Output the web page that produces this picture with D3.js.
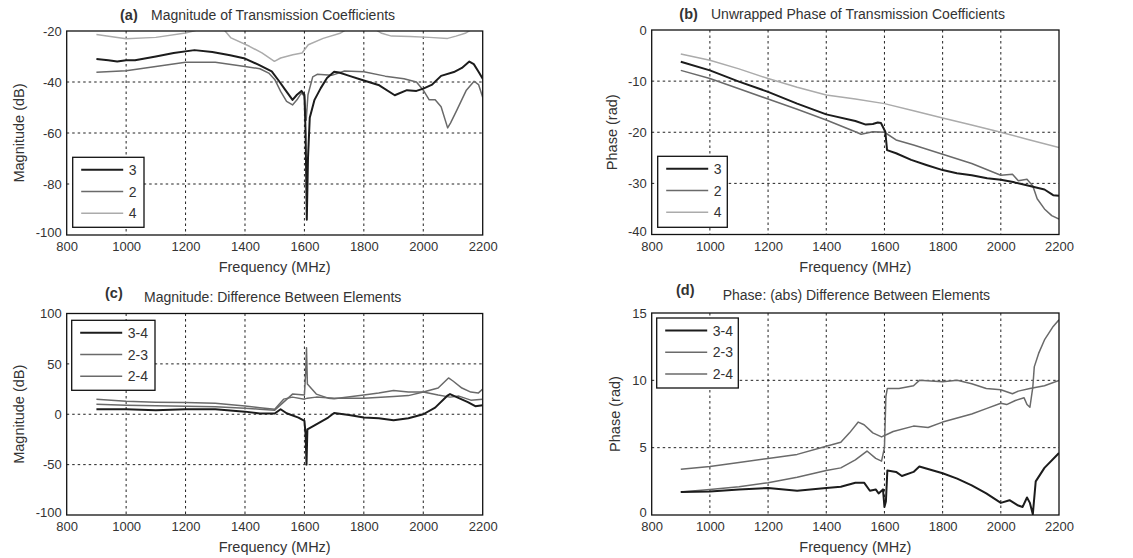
<!DOCTYPE html>
<html>
<head>
<meta charset="utf-8">
<script src="https://cdn.jsdelivr.net/npm/d3@7"></script>
<style>
  body { margin: 0; background: #fff; }
  text { font-family: "Liberation Sans", Arial, sans-serif; fill: #333; }
</style>
</head>
<body>
<svg id="chart" width="1133" height="558"></svg>
<script>
'use strict'

// ---- data: [frequency MHz, value] ----
let freqTicks = [800, 1000, 1200, 1400, 1600, 1800, 2000, 2200];

// (a) magnitude, dB
let magT3 = [[900,-31],[940,-31.5],[970,-32],[1000,-31.5],[1030,-31.5],[1100,-30],[1160,-28.6],[1230,-27.5],[1290,-28.2],[1350,-29.5],[1400,-30.8],[1445,-33.2],[1490,-35.8],[1515,-39.7],[1535,-43],[1560,-47],[1575,-45],[1590,-43.5],[1600,-45],[1604,-60],[1608,-94],[1612,-70],[1618,-54],[1634,-47],[1655,-42.4],[1676,-38.4],[1700,-36],[1717,-36.3],[1746,-37.4],[1800,-39.4],[1852,-41.3],[1904,-45.2],[1945,-43.2],[1977,-43.5],[2000,-42.6],[2030,-41],[2060,-37.6],[2103,-36.1],[2130,-34.5],[2155,-32],[2170,-33],[2186,-36],[2200,-38.7]];
let magT2 = [[900,-36.2],[1000,-35.6],[1100,-33.9],[1200,-32.3],[1300,-32.3],[1400,-33.9],[1450,-34.8],[1480,-36.5],[1500,-39],[1520,-43.7],[1540,-47.6],[1560,-49],[1575,-47],[1590,-44.3],[1600,-45.6],[1606,-55],[1612,-45],[1628,-38],[1643,-37],[1692,-37.4],[1735,-35.7],[1800,-36],[1872,-37.7],[1935,-38.7],[1977,-40],[2000,-43.2],[2020,-47],[2040,-47],[2060,-49.7],[2082,-58],[2092,-56],[2113,-51],[2145,-43.2],[2171,-39.7],[2186,-41],[2200,-46]];
let magT4 = [[900,-21.4],[1000,-23],[1100,-22.5],[1200,-20.8],[1240,-19.6],[1330,-19.6],[1353,-22.7],[1415,-26],[1457,-28.6],[1499,-31.9],[1520,-30.6],[1561,-29.3],[1592,-28.6],[1613,-25.4],[1663,-22.9],[1720,-20.9],[1740,-19.5],[1840,-19.5],[1860,-20.9],[1893,-22],[1956,-22.2],[2020,-22.5],[2082,-22.9],[2110,-22],[2141,-20.9],[2160,-19.6],[2200,-19.6]];

// (b) unwrapped phase, rad
let phT3 = [[900,-6.2],[1000,-7.9],[1100,-10.1],[1200,-12.1],[1300,-14.4],[1400,-16.5],[1500,-17.8],[1536,-18.5],[1560,-18.4],[1577,-18.1],[1588,-18.2],[1603,-19.9],[1609,-23.5],[1640,-24.1],[1692,-25.4],[1744,-26.4],[1800,-27.4],[1849,-28],[1900,-28.4],[1953,-29],[2000,-29.3],[2047,-29.8],[2100,-30.5],[2150,-31.2],[2180,-32.3],[2200,-32.4]];
let phT2 = [[900,-7.9],[1000,-9.5],[1100,-11.5],[1200,-13.5],[1300,-15.5],[1400,-17.6],[1500,-19.9],[1520,-20.4],[1560,-19.9],[1600,-20],[1640,-21.5],[1700,-22.5],[1800,-24.3],[1900,-26.1],[2000,-28.4],[2040,-28.2],[2060,-29.5],[2090,-29.2],[2110,-30.5],[2125,-33],[2150,-35],[2175,-36.3],[2200,-37]];
let phT4 = [[900,-4.7],[1000,-5.9],[1100,-7.6],[1200,-9.5],[1300,-11.2],[1400,-12.7],[1500,-13.5],[1600,-14.4],[1700,-15.8],[1800,-17.2],[1900,-18.6],[2000,-20],[2100,-21.5],[2200,-23]];

// (c) magnitude difference, dB
let magD34 = [[900,5],[1000,5],[1100,4],[1200,5],[1300,5],[1400,2.6],[1450,0.7],[1500,0.7],[1520,5],[1540,1],[1580,-3.3],[1600,-6.6],[1604,-20],[1607,-50],[1610,-15],[1640,-10],[1680,-3.3],[1700,1.3],[1750,-0.7],[1800,-3.3],[1850,-4],[1900,-6],[1950,-4],[2000,0],[2040,6.6],[2080,18.2],[2090,20],[2120,16],[2150,12],[2175,8],[2200,9]];
let magD23 = [[900,10],[1000,9],[1100,8.5],[1200,8],[1300,7.5],[1400,6],[1450,5],[1500,4],[1530,12],[1560,20],[1600,19],[1604,40],[1607,66],[1610,30],[1640,20],[1680,16],[1700,15.5],[1800,19],[1850,21],[1900,23.5],[1950,22],[2000,22],[2050,19],[2090,17],[2120,18],[2160,14],[2200,15]];
let magD24 = [[900,15],[1000,13],[1100,12],[1200,11.6],[1300,11],[1400,8.3],[1450,6.5],[1500,5],[1530,15],[1560,17],[1600,15],[1610,16],[1640,17],[1700,16],[1800,16],[1900,17.5],[1950,18.5],[2000,22],[2050,26],[2085,36],[2100,33],[2130,26],[2160,22],[2185,21],[2200,25]];

// (d) phase difference, rad
let phD34 = [[900,1.7],[1000,1.75],[1100,1.9],[1200,2.0],[1300,1.8],[1400,2.0],[1450,2.1],[1500,2.4],[1530,2.4],[1550,1.8],[1570,1.9],[1580,1.6],[1595,1.9],[1600,0.6],[1605,1.0],[1610,3.3],[1640,3.2],[1660,2.9],[1700,3.2],[1720,3.6],[1800,3.1],[1850,2.7],[1900,2.2],[1950,1.6],[2000,0.9],[2030,1.1],[2060,0.7],[2075,0.6],[2090,1.3],[2100,0.9],[2110,0.05],[2120,2.5],[2150,3.5],[2200,4.6]];
let phD23 = [[900,1.7],[1000,1.9],[1100,2.1],[1200,2.4],[1300,2.8],[1400,3.3],[1450,3.5],[1500,4.1],[1540,4.75],[1570,4.2],[1590,4.0],[1600,5],[1605,8.8],[1610,9.4],[1650,9.4],[1700,9.6],[1720,10],[1800,9.9],[1850,10],[1900,9.75],[1950,9.4],[2000,9.3],[2040,9.0],[2060,9.2],[2100,9.4],[2150,9.6],[2200,10]];
let phD24 = [[900,3.4],[1000,3.6],[1100,3.9],[1200,4.2],[1300,4.5],[1400,5.1],[1450,5.4],[1480,6.1],[1510,6.9],[1530,6.7],[1560,6.1],[1590,5.8],[1610,6.0],[1630,6.2],[1700,6.6],[1750,6.5],[1800,6.9],[1900,7.5],[1950,7.9],[2000,8.3],[2020,8.2],[2050,8.5],[2080,8.7],[2090,8.2],[2100,8.0],[2110,9.5],[2115,11],[2130,12],[2150,13],[2180,14],[2200,14.5]];

let magTicks = [-100, -80, -60, -40, -20];
let phTicks = [-40, -30, -20, -10, 0];
let magDTicks = [-100, -50, 0, 50, 100];
let phDTicks = [0, 5, 10, 15];

let black = '#1c1c1c', grey = '#6a6a6a', light = '#ababab';

const svg = d3.select('#chart');

function drawPanel(p) {
	let x = d3.scaleLinear().domain([800, 2200]).range([p.x0, p.x1]);
	let y = d3.scaleLinear().domain([p.yTicks[0], p.yTicks[p.yTicks.length-1]]).range([p.y1, p.y0]);
	let g = svg.append('g');

	g.append('defs').append('clipPath').attr('id', 'clip-' + p.id)
		.append('rect').attr('x', p.x0).attr('y', p.y0).attr('width', p.x1 - p.x0).attr('height', p.y1 - p.y0);

	// dotted grid
	g.selectAll('.vgrid').data(freqTicks.slice(1, -1)).enter().append('line')
		.attr('x1', d => x(d)).attr('x2', d => x(d)).attr('y1', p.y0).attr('y2', p.y1)
		.attr('stroke', '#222').attr('stroke-width', 1).attr('stroke-dasharray', '2.5,3');
	g.selectAll('.hgrid').data(p.yTicks.slice(1, -1)).enter().append('line')
		.attr('x1', p.x0).attr('x2', p.x1).attr('y1', d => y(d)).attr('y2', d => y(d))
		.attr('stroke', '#222').attr('stroke-width', 1).attr('stroke-dasharray', '2.5,3');

	// series
	let line = d3.line().x(d => x(d[0])).y(d => y(d[1]));
	let plot = g.append('g').attr('clip-path', 'url(#clip-' + p.id + ')');
	p.series.slice().reverse().forEach(function(s) {
		plot.append('path').datum(s.data).attr('d', line)
			.attr('fill', 'none').attr('stroke', s.color).attr('stroke-width', s.width)
			.attr('stroke-linejoin', 'round');
	});

	// box
	g.append('rect').attr('x', p.x0).attr('y', p.y0).attr('width', p.x1 - p.x0).attr('height', p.y1 - p.y0)
		.attr('fill', 'none').attr('stroke', '#111').attr('stroke-width', 1.3);

	// axes via d3, domain hidden
	let xa = g.append('g').attr('transform', 'translate(0,' + p.y1 + ')')
		.call(d3.axisBottom(x).tickValues(freqTicks).tickSize(0).tickPadding(7).tickFormat(d3.format('d')));
	let ya = g.append('g').attr('transform', 'translate(' + p.x0 + ',0)')
		.call(d3.axisLeft(y).tickValues(p.yTicks).tickSize(0).tickPadding(5).tickFormat(d3.format('d')));
	[xa, ya].forEach(function(a) {
		a.select('.domain').remove();
		a.selectAll('text').style('font-family', '"Liberation Sans", Arial, sans-serif')
			.style('font-size', '13px').attr('fill', '#333');
	});
	ya.selectAll('text').text(d => d < 0 ? '-' + Math.abs(d) : d);
	// lowest y label sits a little higher, like the original
	ya.selectAll('text').filter(d => d === p.yTicks[0]).attr('dy', '0.1em');

	g.append('text').attr('x', (p.x0 + p.x1) / 2).attr('y', p.y1 + 37)
		.attr('text-anchor', 'middle').style('font-size', '14.5px').text('Frequency (MHz)');
	g.append('text').attr('transform', 'translate(' + p.yLabelX + ',' + ((p.y0 + p.y1) / 2) + ') rotate(-90)')
		.attr('text-anchor', 'middle').attr('dy', '0.35em').style('font-size', '14.5px').text(p.yLabel);

	// titles
	g.append('text').attr('x', p.tagX).attr('y', p.tagY).style('font-size', '14.5px')
		.style('font-weight', 'bold').attr('fill', '#111').text(p.tag);
	g.append('text').attr('x', p.titleX).attr('y', p.titleY).style('font-size', '14px').text(p.title);

	// legend
	let lg = g.append('g');
	lg.append('rect').attr('x', p.leg.x).attr('y', p.leg.y).attr('width', p.leg.w).attr('height', p.leg.h)
		.attr('fill', '#fff').attr('stroke', '#111').attr('stroke-width', 1.3);
	p.series.forEach(function(s, i) {
		let ly = p.leg.y + 12.5 + i * 21.7;
		lg.append('line').attr('x1', p.leg.x + 8.5).attr('x2', p.leg.x + 50.5).attr('y1', ly).attr('y2', ly)
			.attr('stroke', s.color).attr('stroke-width', s.width);
		lg.append('text').attr('x', p.leg.x + 56).attr('y', ly + 5).style('font-size', '14px').text(s.name);
	});
}

let panels = [
	{id: 'a', x0: 66.7, x1: 482.7, y0: 31, y1: 235, yTicks: magTicks, yLabel: 'Magnitude (dB)', yLabelX: 18.5,
	 tag: '(a)', tagX: 120, tagY: 20, title: 'Magnitude of Transmission Coefficients', titleX: 151, titleY: 20,
	 leg: {x: 72.7, y: 157.3, w: 71.3, h: 70},
	 series: [{name: '3', data: magT3, color: black, width: 2}, {name: '2', data: magT2, color: grey, width: 1.5}, {name: '4', data: magT4, color: light, width: 1.5}]},
	{id: 'b', x0: 651.7, x1: 1059, y0: 30, y1: 234.5, yTicks: phTicks, yLabel: 'Phase (rad)', yLabelX: 612,
	 tag: '(b)', tagX: 679.3, tagY: 19, title: 'Unwrapped Phase of Transmission Coefficients', titleX: 711, titleY: 19,
	 leg: {x: 657.7, y: 156.3, w: 69.6, h: 71},
	 series: [{name: '3', data: phT3, color: black, width: 2}, {name: '2', data: phT2, color: grey, width: 1.5}, {name: '4', data: phT4, color: light, width: 1.5}]},
	{id: 'c', x0: 66.7, x1: 482.7, y0: 313.5, y1: 515, yTicks: magDTicks, yLabel: 'Magnitude (dB)', yLabelX: 18.5,
	 tag: '(c)', tagX: 105, tagY: 298, title: 'Magnitude: Difference Between Elements', titleX: 144, titleY: 302,
	 leg: {x: 71.7, y: 320.3, w: 83.3, h: 70},
	 series: [{name: '3-4', data: magD34, color: black, width: 2}, {name: '2-3', data: magD23, color: grey, width: 1.5}, {name: '2-4', data: magD24, color: grey, width: 1.5}]},
	{id: 'd', x0: 651.7, x1: 1059, y0: 313, y1: 515, yTicks: phDTicks, yLabel: 'Phase (rad)', yLabelX: 615,
	 tag: '(d)', tagX: 676, tagY: 295, title: 'Phase: (abs) Difference Between Elements', titleX: 722.7, titleY: 300,
	 leg: {x: 656.7, y: 318, w: 81.6, h: 70},
	 series: [{name: '3-4', data: phD34, color: black, width: 2}, {name: '2-3', data: phD23, color: grey, width: 1.5}, {name: '2-4', data: phD24, color: grey, width: 1.5}]}
];

panels.forEach(drawPanel);
</script>
</body>
</html>
